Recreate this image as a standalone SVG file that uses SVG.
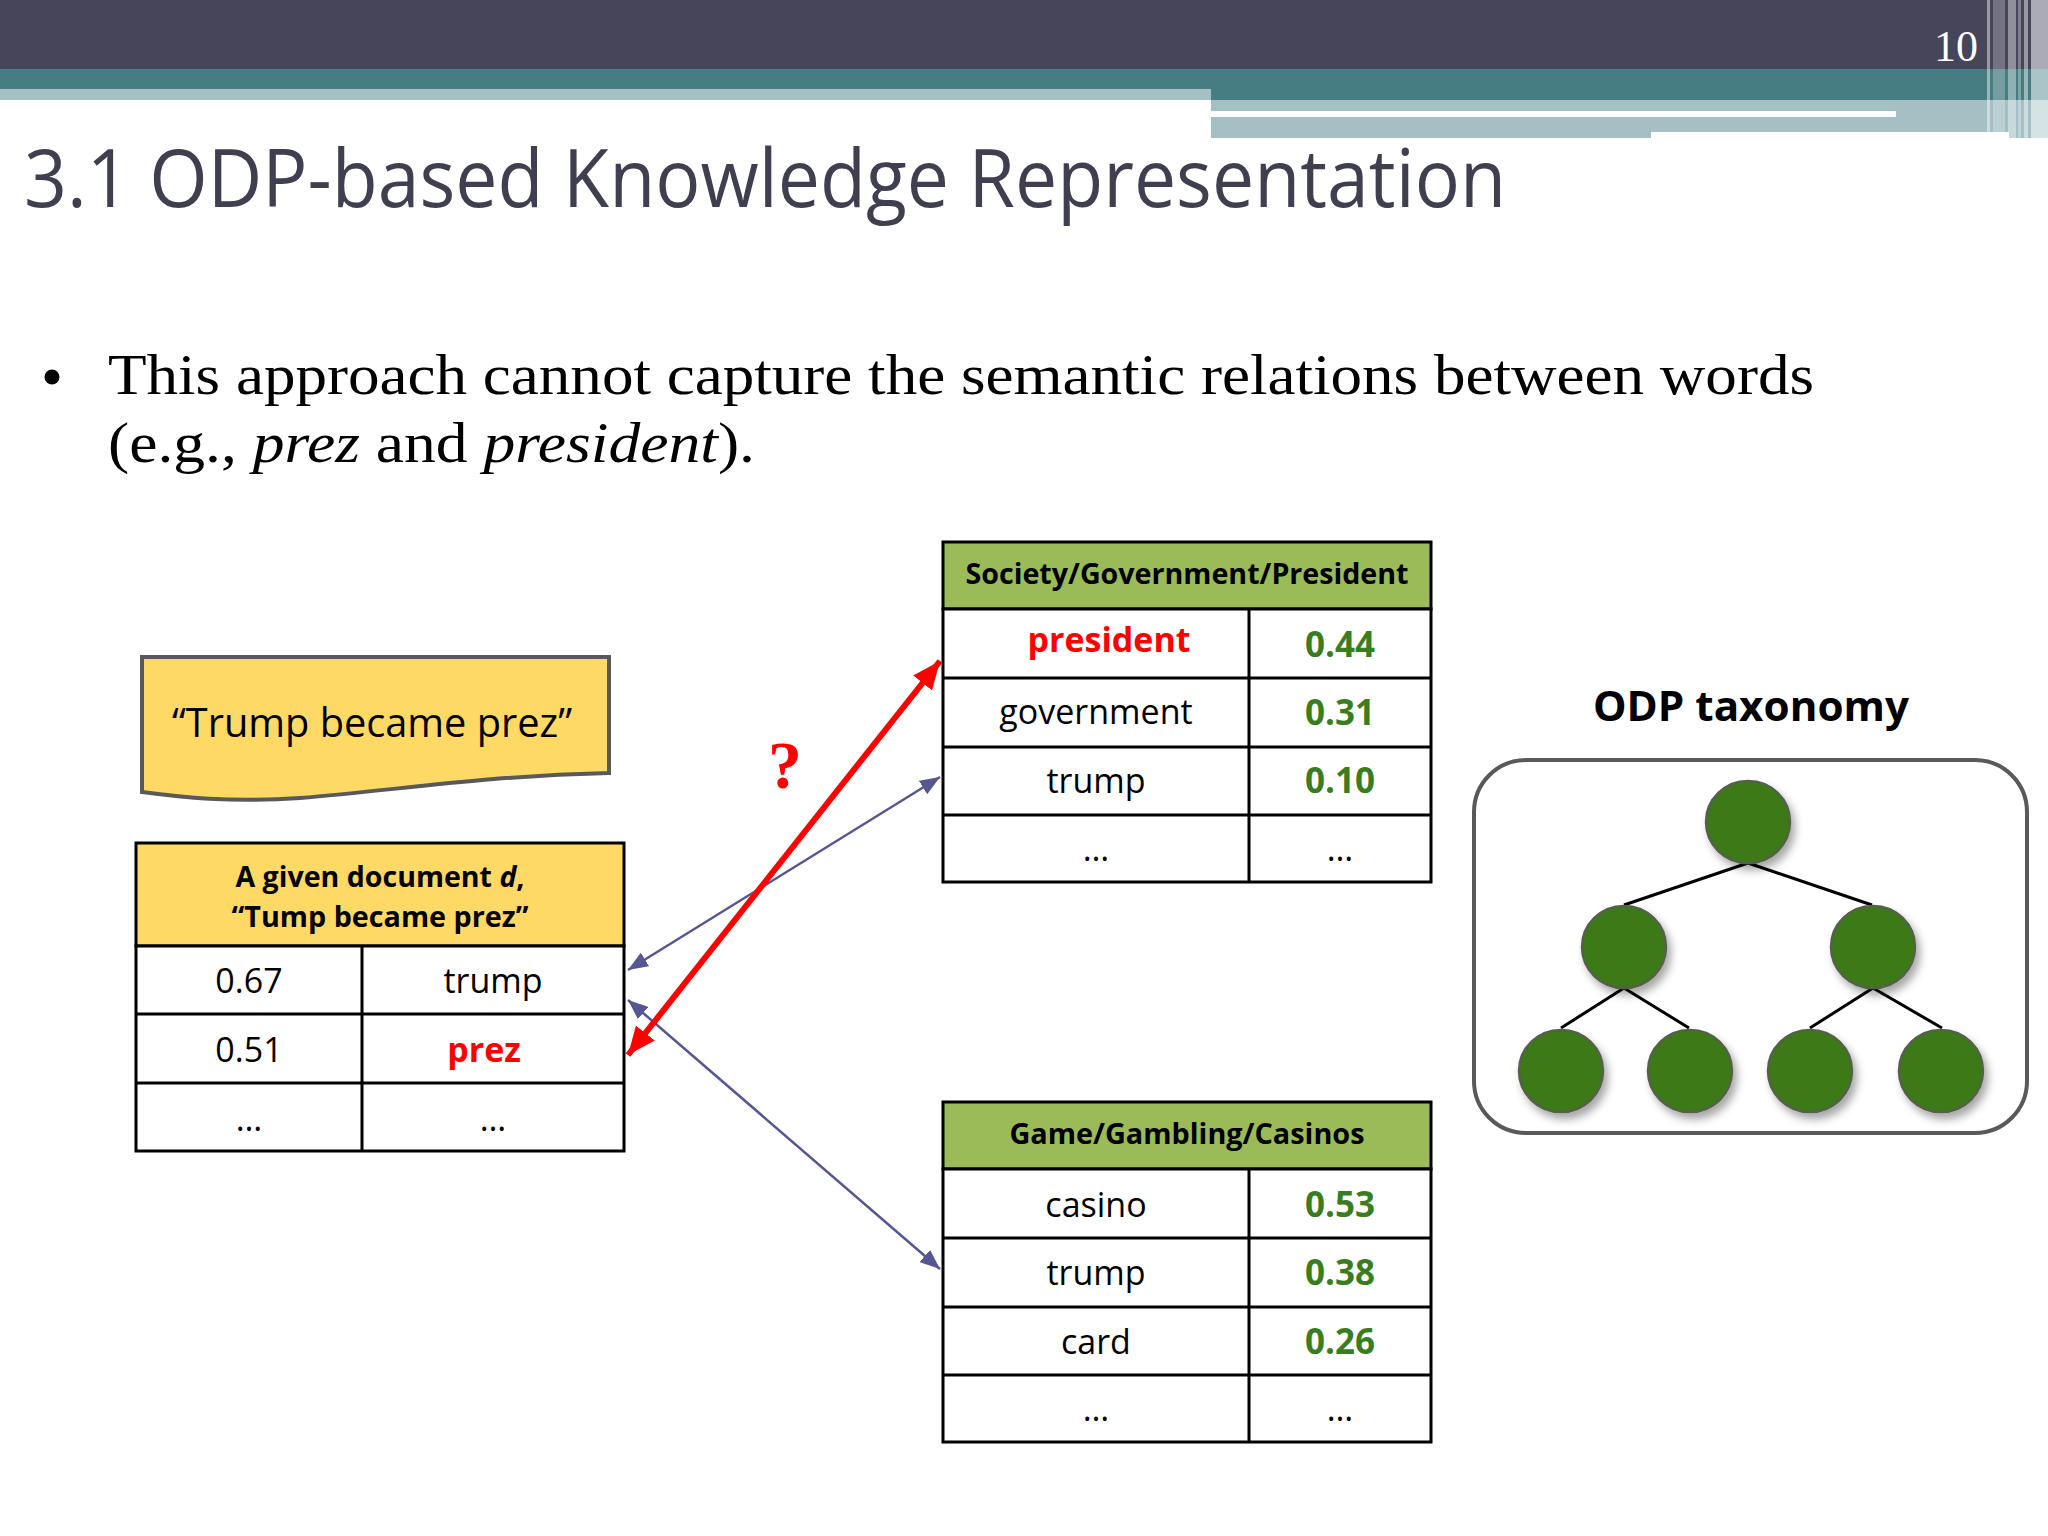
<svg xmlns="http://www.w3.org/2000/svg" width="2048" height="1536" viewBox="0 0 2048 1536">
<style>
.sans{font-family:"Open Sans","Liberation Sans",sans-serif}
.serif{font-family:"Liberation Serif","Times New Roman",serif}
.cell{fill:#fff;stroke:#000;stroke-width:3}
.grid{stroke:#000;stroke-width:3;fill:none}
.txt{font-family:"Open Sans","Liberation Sans",sans-serif;font-size:34px;fill:#000;text-anchor:middle}
.num{font-family:"Open Sans","Liberation Sans",sans-serif;font-size:35px;font-weight:bold;fill:#3A7D1E;text-anchor:middle}
.hdr{font-family:"Open Sans","Liberation Sans",sans-serif;font-size:28px;font-weight:bold;fill:#000;text-anchor:middle}
.node{fill:#3B7A14;stroke:#55604A;stroke-width:2.5}
.edge{stroke:#000;stroke-width:3;fill:none}
.blue{stroke:#565690;stroke-width:2.5;fill:none}
.red{stroke:#FF0000;stroke-width:6;fill:none}
</style>
<defs>
<marker id="ah-blue" markerUnits="userSpaceOnUse" markerWidth="22" markerHeight="16" refX="20" refY="8" orient="auto-start-reverse"><path d="M0,0 L20,8 L0,16 z" fill="#565690"/></marker>
<marker id="ah-red" markerUnits="userSpaceOnUse" markerWidth="30" markerHeight="24" refX="28" refY="12" orient="auto-start-reverse"><path d="M0,0 L28,12 L0,24 z" fill="#FF0000"/></marker>
<filter id="shadow" x="-30%" y="-30%" width="170%" height="170%"><feDropShadow dx="4" dy="6" stdDeviation="4" flood-color="#000" flood-opacity="0.35"/></filter>
</defs>
<rect width="2048" height="1536" fill="#fff"/>
<!-- header bands -->
<g id="header">
<rect x="0" y="0" width="2048" height="69" fill="#46455A"/>
<rect x="0" y="69" width="2048" height="31" fill="#467D82"/>
<rect x="0" y="89" width="1211" height="11" fill="#A4C0C4"/>
<rect x="1211" y="100" width="837" height="38" fill="#A4C0C4"/>
<rect x="1211" y="111" width="685" height="6" fill="#fff"/>
<rect x="1651" y="132" width="358" height="6" fill="#fff"/>
<rect x="1987" y="0" width="3" height="138" fill="#ffffff" opacity="0.45"/>
<rect x="1993" y="0" width="12" height="138" fill="#ffffff" opacity="0.25"/>
<rect x="2008" y="0" width="8" height="138" fill="#ffffff" opacity="0.4"/>
<rect x="2018" y="0" width="3" height="138" fill="#ffffff" opacity="0.3"/>
<rect x="2024" y="0" width="4" height="138" fill="#ffffff" opacity="0.45"/>
<rect x="2031" y="0" width="17" height="138" fill="#ffffff" opacity="0.55"/>
<text x="1978" y="61" class="serif" font-size="44" fill="#fff" text-anchor="end">10</text>
</g>
<text x="24" y="207" class="sans" font-size="80" fill="#3F3F50" textLength="1482" lengthAdjust="spacingAndGlyphs">3.1 ODP-based Knowledge Representation</text>
<g id="bullet">
<circle cx="52" cy="377" r="7.5" fill="#000"/>
<text x="108" y="394" class="serif" font-size="58" fill="#000" textLength="1706" lengthAdjust="spacingAndGlyphs">This approach cannot capture the semantic relations between words</text>
<text x="108" y="462" class="serif" font-size="58" fill="#000" textLength="647" lengthAdjust="spacingAndGlyphs">(e.g., <tspan font-style="italic">prez</tspan> and <tspan font-style="italic">president</tspan>).</text>
</g>
<!-- note -->
<g id="note">
<path d="M142,657 H609 V773 C480,776 400,790 300,798 C230,803 180,797 142,792 Z" fill="#FFD966" stroke="#595959" stroke-width="4"/>
<text x="372" y="737" class="sans" font-size="40" fill="#000" text-anchor="middle" textLength="400" lengthAdjust="spacingAndGlyphs">“Trump became prez”</text>
</g>
<!-- document table -->
<g id="doc-table">
<rect x="136" y="843" width="488" height="103" fill="#FFD966" stroke="#000" stroke-width="3"/>
<rect x="136" y="946" width="488" height="205" class="cell"/>
<path d="M136,1014 H624 M136,1083 H624 M362,946 V1151" class="grid"/>
<text x="380" y="887" class="hdr" textLength="289" lengthAdjust="spacingAndGlyphs">A given document <tspan font-style="italic">d</tspan>,</text>
<text x="380" y="927" class="hdr" textLength="297" lengthAdjust="spacingAndGlyphs">“Tump became prez”</text>
<text x="249" y="993" class="txt">0.67</text>
<text x="493" y="993" class="txt">trump</text>
<text x="249" y="1062" class="txt">0.51</text>
<text x="484" y="1062" class="txt" style="fill:#FF0000;font-weight:bold">prez</text>
<text x="249" y="1131" class="txt">…</text>
<text x="493" y="1131" class="txt">…</text>
</g>
<!-- top category table -->
<g id="cat-president">
<rect x="943" y="542" width="488" height="67" fill="#9BBB59" stroke="#000" stroke-width="3"/>
<rect x="943" y="609" width="488" height="273" class="cell"/>
<path d="M943,678 H1431 M943,747 H1431 M943,815 H1431 M1249,609 V882" class="grid"/>
<text x="1187" y="584" class="hdr" textLength="443" lengthAdjust="spacingAndGlyphs">Society/Government/President</text>
<text x="1109" y="652" class="txt" style="fill:#FF0000;font-weight:bold">president</text>
<text x="1340" y="657" class="num">0.44</text>
<text x="1096" y="724" class="txt">government</text>
<text x="1340" y="725" class="num">0.31</text>
<text x="1096" y="793" class="txt">trump</text>
<text x="1340" y="793" class="num">0.10</text>
<text x="1096" y="861" class="txt">…</text>
<text x="1340" y="861" class="txt">…</text>
</g>
<!-- bottom category table -->
<g id="cat-casinos">
<rect x="943" y="1102" width="488" height="67" fill="#9BBB59" stroke="#000" stroke-width="3"/>
<rect x="943" y="1169" width="488" height="273" class="cell"/>
<path d="M943,1238 H1431 M943,1307 H1431 M943,1375 H1431 M1249,1169 V1442" class="grid"/>
<text x="1187" y="1144" class="hdr" textLength="355" lengthAdjust="spacingAndGlyphs">Game/Gambling/Casinos</text>
<text x="1096" y="1217" class="txt">casino</text>
<text x="1340" y="1217" class="num">0.53</text>
<text x="1096" y="1285" class="txt">trump</text>
<text x="1340" y="1285" class="num">0.38</text>
<text x="1096" y="1354" class="txt">card</text>
<text x="1340" y="1354" class="num">0.26</text>
<text x="1096" y="1421" class="txt">…</text>
<text x="1340" y="1421" class="txt">…</text>
</g>
<!-- connectors -->
<g id="connectors">
<line x1="628" y1="970" x2="940" y2="777" class="blue" marker-start="url(#ah-blue)" marker-end="url(#ah-blue)"/>
<line x1="628" y1="1000" x2="940" y2="1269" class="blue" marker-start="url(#ah-blue)" marker-end="url(#ah-blue)"/>
<line x1="628" y1="1055" x2="940" y2="661" class="red" marker-start="url(#ah-red)" marker-end="url(#ah-red)"/>
</g>
<text x="785" y="788" class="serif" font-size="68" font-weight="bold" fill="#FF0000" text-anchor="middle">?</text>
<!-- ODP taxonomy -->
<g id="odp-taxonomy">
<text x="1751" y="721" class="sans" font-size="42" font-weight="bold" fill="#000" text-anchor="middle" textLength="316" lengthAdjust="spacingAndGlyphs">ODP taxonomy</text>
<rect x="1474" y="760" width="553" height="373" rx="52" ry="52" fill="#fff" stroke="#595959" stroke-width="4"/>
<g id="tree-edges">
<path d="M1748,863 L1624,905 M1748,863 L1872,905 M1624,988 L1561,1028 M1624,988 L1689,1028 M1873,988 L1810,1028 M1873,988 L1942,1028" class="edge"/>
</g>
<g filter="url(#shadow)">
<ellipse id="n-root" cx="1748" cy="822" rx="42" ry="41" class="node"/>
<ellipse id="n-l" cx="1624" cy="947" rx="42" ry="41" class="node"/>
<ellipse id="n-r" cx="1873" cy="947" rx="42" ry="41" class="node"/>
<ellipse id="n-ll" cx="1561" cy="1071" rx="42" ry="41" class="node"/>
<ellipse id="n-lr" cx="1690" cy="1071" rx="42" ry="41" class="node"/>
<ellipse id="n-rl" cx="1810" cy="1071" rx="42" ry="41" class="node"/>
<ellipse id="n-rr" cx="1941" cy="1071" rx="42" ry="41" class="node"/>
</g>
</g>
</svg>
